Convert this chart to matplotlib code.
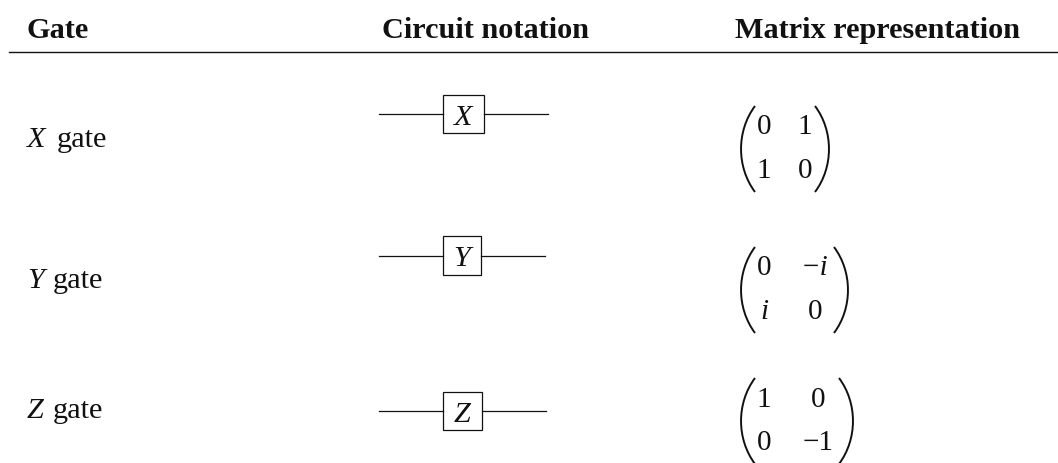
import matplotlib
matplotlib.use("Agg")
import matplotlib.pyplot as plt
from matplotlib.patches import Rectangle, PathPatch
from matplotlib.path import Path

W, H = 1058, 463
headers = ["Gate", "Circuit notation", "Matrix representation"]
gate_letters = ["X", "Y", "Z"]
gate_suffix = "gate"
matrices = [[["0", "1"], ["1", "0"]],
            [["0", "\u2212i"], ["i", "0"]],
            [["1", "0"], ["0", "\u22121"]]]

plt.rcParams['font.family'] = ['Liberation Serif', 'DejaVu Serif']
fig = plt.figure(figsize=(W/100, H/100), dpi=100)
ax = fig.add_axes([0, 0, 1, 1])
ax.set_xlim(0, W); ax.set_ylim(H, 0); ax.axis('off')
FS = 21.8
MS = 21.0
INK = '#111111'
ax.plot([9, W], [51.5, 51.5], color=INK, lw=1.0)
for t, x in zip(headers, [27, 382, 735]):
    ax.text(x, 38, t, fontsize=FS, fontweight='bold', va='baseline', color=INK)

label_base = [147, 288, 418]
suffix_x = [57, 53, 53]
box = [(443, 484, 95, 133), (443, 481, 236, 275), (443, 482, 392, 430)]
wire = [(379, 548, 114), (379, 545, 256), (379, 546, 411)]
letter_base = [125, 266, 422]
mat_left = [741, 741, 741]
col0 = [764, 764, 764]
col1 = [805, 815, 818]
mat_right = [829, 848, 853]
row_y = [(127, 171), (268, 312), (400, 443)]
mat_mid = [149, 290, 421]
for i, g in enumerate(gate_letters):
    base = label_base[i]
    ax.text(27, base, g, fontsize=FS, style='italic', va='baseline', color=INK)
    ax.text(suffix_x[i], base, gate_suffix, fontsize=FS, va='baseline', color=INK)
    bx0, bx1, by0, by1 = box[i]
    lx0, lx1, ly = wire[i]
    ax.add_patch(Rectangle((bx0, by0), bx1 - bx0, by1 - by0, fill=False, ec=INK, lw=0.9))
    ax.plot([lx0, bx0], [ly, ly], color=INK, lw=0.9)
    ax.plot([bx1, lx1], [ly, ly], color=INK, lw=0.9)
    ax.text((bx0 + bx1) / 2, letter_base[i], g, fontsize=FS, style='italic', ha='center', va='baseline', color=INK)
    m = matrices[i]
    for r, ry in enumerate(row_y[i]):
        for c, cx in enumerate([col0[i], col1[i]]):
            t = m[r][c]
            ax.text(cx, ry, t, fontsize=MS, ha='center', va='center', color=INK,
                    style='italic' if 'i' in t else 'normal')
    my = mat_mid[i]
    for xo, xi in ((mat_left[i], mat_left[i] + 14), (mat_right[i], mat_right[i] - 14)):
        bulge = xo - (xi - xo) * 0.33
        verts = [(xi, my - 43), (bulge, my - 18), (bulge, my + 18), (xi, my + 43)]
        ax.add_patch(PathPatch(Path(verts, [Path.MOVETO, Path.CURVE4, Path.CURVE4, Path.CURVE4]),
                               fill=False, ec=INK, lw=1.4))
fig.savefig("out.png", dpi=100)
